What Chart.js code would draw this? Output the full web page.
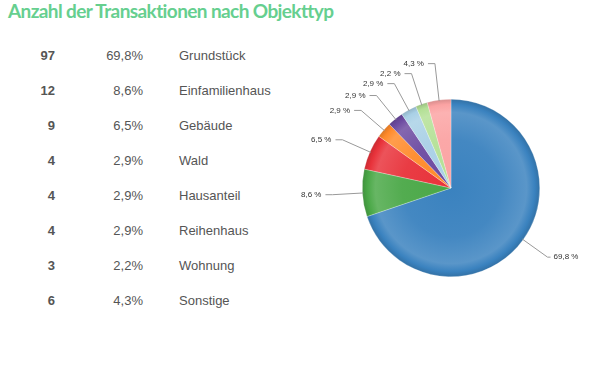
<!DOCTYPE html>
<html>
<head>
<meta charset="utf-8">
<script src="https://cdn.jsdelivr.net/npm/chart.js@4/dist/chart.umd.min.js"></script>
<style>
  html, body { margin: 0; padding: 0; background: #fff; }
  body { width: 591px; height: 367px; position: relative; overflow: hidden; font-family: 'Liberation Sans', Arial, sans-serif; }
  #title { position: absolute; left: 8px; top: 0px; font: bold 19px 'Lato', sans-serif; letter-spacing: -0.6px; color: #66cf8f; white-space: nowrap; line-height: 22px; }
  #table { position: absolute; left: 0; top: 38px; }
  .row { position: relative; height: 35px; line-height: 35px; font-size: 13px; color: #555; }
  .row span { position: absolute; top: 0; white-space: nowrap; }
  .n { font-weight: bold; text-align: right; width: 40px; left: 15px; }
  .p { text-align: right; width: 60px; left: 83px; }
  .l { left: 179px; }
  #pieBox { position: absolute; left: 290px; top: 40px; width: 301px; height: 300px; }
</style>
</head>
<body>
<div id="title">Anzahl der Transaktionen nach Objekttyp</div>
<div id="table"></div>
<div id="pieBox"><canvas id="pie" width="301" height="300"></canvas></div>
<script>
const CATEGORIES = ['Grundstück', 'Einfamilienhaus', 'Gebäude', 'Wald', 'Hausanteil', 'Reihenhaus', 'Wohnung', 'Sonstige'];
const COUNTS = [97, 12, 9, 4, 4, 4, 3, 6];
const COLORS = ['#3a82bf', '#4aa847', '#e8323a', '#ff8a2a', '#6c4aa0', '#a9d0e6', '#b4e096', '#fba3a3'];

const TOTAL = COUNTS.reduce((a, b) => a + b, 0);
const pct = (v) => (v / TOTAL * 100).toFixed(1).replace('.', ',');

// left-hand table
const table = document.getElementById('table');
CATEGORIES.forEach((name, i) => {
  const row = document.createElement('div');
  row.className = 'row';
  row.innerHTML = `<span class="n">${COUNTS[i]}</span><span class="p">${pct(COUNTS[i])}%</span><span class="l">${name}</span>`;
  table.appendChild(row);
});

function shade(hex, amt) {
  const n = parseInt(hex.slice(1), 16);
  const r = n >> 16, g = (n >> 8) & 255, b = n & 255;
  const f = (c) => Math.round(amt >= 0 ? c + (255 - c) * amt : c * (1 + amt));
  return `rgb(${f(r)},${f(g)},${f(b)})`;
}

// shaded slices: lighter ring near the edge, darker rim
function sliceFill(ctx) {
  const chart = ctx.chart;
  const area = chart.chartArea;
  const base = COLORS[ctx.dataIndex];
  if (!area) return base;
  const cx = (area.left + area.right) / 2, cy = (area.top + area.bottom) / 2;
  const r = Math.min(area.right - area.left, area.bottom - area.top) / 2;
  const g = chart.ctx.createRadialGradient(cx, cy, 0, cx, cy, r);
  g.addColorStop(0, base);
  g.addColorStop(0.55, shade(base, 0.05));
  g.addColorStop(0.85, shade(base, 0.16));
  g.addColorStop(0.94, base);
  g.addColorStop(1, shade(base, -0.14));
  return g;
}

// outside labels with connectors, stacked to avoid overlaps
const outsideLabels = {
  id: 'outsideLabels',
  afterDatasetsDraw(chart) {
    const ctx = chart.ctx;
    const arcs = chart.getDatasetMeta(0).data;
    const items = arcs.map((arc, i) => {
      const mid = (arc.startAngle + arc.endAngle) / 2;
      const R = arc.outerRadius + 30;
      return {
        i,
        ex: arc.x + (arc.outerRadius - 1) * Math.cos(mid),
        ey: arc.y + (arc.outerRadius - 1) * Math.sin(mid),
        x: arc.x + R * Math.cos(mid),
        y: arc.y + R * Math.sin(mid),
        left: Math.cos(mid) < 0,
      };
    });
    const left = items.filter((d) => d.left).sort((a, b) => b.y - a.y);
    for (let k = 1; k < left.length; k++) {
      left[k].y = Math.min(left[k].y, left[k - 1].y - 10);
    }
    ctx.save();
    ctx.font = "8px 'Liberation Sans', Arial, sans-serif";
    ctx.textBaseline = 'middle';
    items.forEach((d) => {
      const dir = d.left ? -1 : 1;
      const seg = d.left ? 7 : 3, gap = d.left ? 4 : 3;
      ctx.strokeStyle = '#999';
      ctx.lineWidth = 1;
      ctx.beginPath();
      ctx.moveTo(d.ex, d.ey);
      ctx.lineTo(d.x, d.y);
      ctx.lineTo(d.x + dir * seg, d.y);
      ctx.stroke();
      ctx.fillStyle = '#333';
      ctx.textAlign = d.left ? 'right' : 'left';
      ctx.fillText(pct(COUNTS[d.i]) + ' %', d.x + dir * (seg + gap), d.y);
    });
    ctx.restore();
  },
};

new Chart(document.getElementById('pie'), {
  type: 'pie',
  data: {
    labels: CATEGORIES,
    datasets: [{
      data: COUNTS,
      backgroundColor: sliceFill,
      borderColor: 'rgba(255,255,255,0.5)',
      borderWidth: 0.5,
    }],
  },
  options: {
    responsive: false,
    animation: false,
    layout: { padding: { left: 72, right: 51, top: 59, bottom: 63 } },
    plugins: { legend: { display: false }, tooltip: { enabled: false } },
  },
  plugins: [outsideLabels],
});
</script>
</body>
</html>
